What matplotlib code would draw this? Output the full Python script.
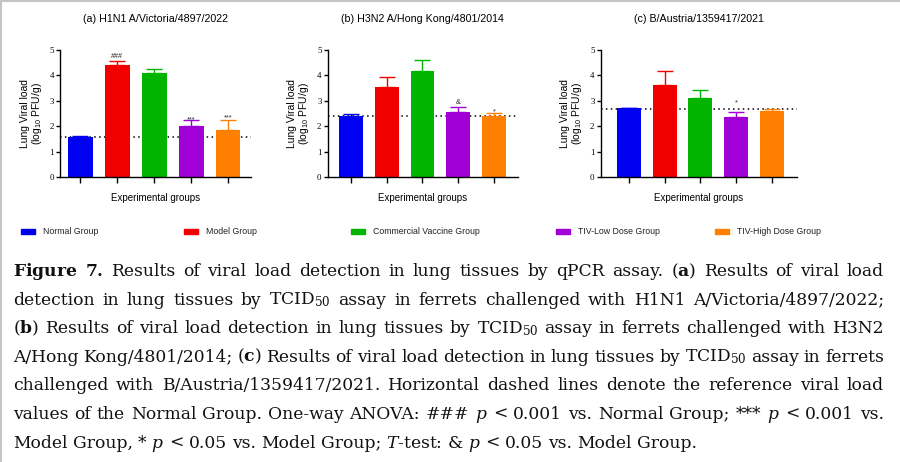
import numpy as np
import matplotlib
matplotlib.use('Agg')
import matplotlib.pyplot as plt
from matplotlib.patches import Rectangle
from matplotlib.lines import Line2D

plt.rcParams['font.family'] = 'Liberation Sans'
plt.rcParams['mathtext.fontset'] = 'custom'
plt.rcParams['mathtext.rm'] = 'DejaVu Serif'
plt.rcParams['mathtext.it'] = 'DejaVu Serif:italic'
plt.rcParams['mathtext.bf'] = 'DejaVu Serif:bold'
plt.rcParams['mathtext.sf'] = 'Liberation Sans'

#%% DATA
groups = ['Normal Group', 'Model Group', 'Commercial Vaccine Group',
          'TIV-Low Dose Group', 'TIV-High Dose Group']
colors = ['#0000f2', '#f20000', '#00b400', '#a000d6', '#ff8000']

titles = ['(a) H1N1 A/Victoria/4897/2022',
          '(b) H3N2 A/Hong Kong/4801/2014',
          '(c) B/Austria/1359417/2021']

means_a = [1.59, 4.42, 4.11, 2.02, 1.86]
err_a = [0.02, 0.15, 0.14, 0.22, 0.37]
means_b = [2.41, 3.56, 4.17, 2.56, 2.41]
err_b = [0.06, 0.36, 0.44, 0.21, 0.10]
means_c = [2.70, 3.63, 3.12, 2.38, 2.61]
err_c = [0.03, 0.53, 0.32, 0.17, 0.05]

# reference level (Normal Group) for the dotted lines
ref_levels = [1.59, 2.39, 2.68]

# significance marks: (bar index, text, y of baseline)
marks_a = [(1, '###', 4.68), (3, '***', 2.20), (4, '***', 2.26)]
marks_b = [(3, '&', 2.86), (4, '*', 2.52)]
marks_c = [(3, '*', 2.86)]

yticks = [0, 1, 2, 3, 4, 5]

caption = [
    r'$\mathbf{Figure}$ $\mathbf{7.}$ Results of viral load detection in lung tissues by qPCR assay. ($\mathbf{a}$) Results of viral load',
    r'detection in lung tissues by TCID$_{\mathrm{50}}$ assay in ferrets challenged with H1N1 A/Victoria/4897/2022;',
    r'($\mathbf{b}$) Results of viral load detection in lung tissues by TCID$_{\mathrm{50}}$ assay in ferrets challenged with H3N2',
    r'A/Hong Kong/4801/2014; ($\mathbf{c}$) Results of viral load detection in lung tissues by TCID$_{\mathrm{50}}$ assay in ferrets',
    r'challenged with B/Austria/1359417/2021. Horizontal dashed lines denote the reference viral load',
    r'values of the Normal Group. One-way ANOVA: ### $p$ < 0.001 vs. Normal Group; *** $p$ < 0.001 vs.',
    r'Model Group, * $p$ < 0.05 vs. Model Group; $T$-test: & $p$ < 0.05 vs. Model Group.',
]

#%% FIGURE
W, H = 900, 462
fig = plt.figure(figsize=(W / 100, H / 100), dpi=100)

def px(x0, y_top, w, h):
    return [x0 / W, 1 - (y_top + h) / H, w / W, h / H]

panels = [
    (px(60, 50, 191, 127), (-0.55, 4.62), means_a, err_a, marks_a),
    (px(327.7, 50, 190.3, 127), (-0.65, 4.67), means_b, err_b, marks_b),
    (px(600.7, 50, 196.3, 127), (-0.79, 4.70), means_c, err_c, marks_c),
]

x = np.arange(len(groups))
for i, (rect, xlim, means, errs, marks) in enumerate(panels):
    ax = fig.add_axes(rect)
    ax.axhline(ref_levels[i], color='black', lw=1.1, ls=(0, (1, 2.2)), zorder=1)
    for j in range(len(groups)):
        ax.bar(x[j], means[j], width=0.67, color=colors[j], zorder=2)
        ax.errorbar(x[j], means[j], yerr=[[0], [errs[j]]], color=colors[j],
                    capsize=5.5, elinewidth=1.0, capthick=1.0, zorder=1.5)
    for j, txt, y in marks:
        ax.text(x[j], y, txt, ha='center', va='baseline', fontsize=5.2,
                color='#222222')
    ax.set_xlim(*xlim)
    ax.set_ylim(0, 5)
    ax.set_yticks(yticks)
    ax.set_xticks(x)
    ax.set_xticklabels([])
    for s in ['top', 'right']:
        ax.spines[s].set_visible(False)
    for s in ['left', 'bottom']:
        ax.spines[s].set_linewidth(1.0)
    ax.tick_params(axis='y', length=3, width=1.0, pad=1.5, labelsize=6.3)
    ax.tick_params(axis='x', length=4, width=1.0)
    for lab in ax.get_yticklabels():
        lab.set_family('Liberation Serif')
    ax.set_title(titles[i], fontsize=7.7, pad=20)
    ax.set_xlabel('Experimental groups', fontsize=7, labelpad=4)
    ax.set_ylabel('Lung Viral load\n(log$_{\\mathsf{10}}$ PFU/g)', fontsize=7.5,
                  linespacing=1.0, labelpad=4)

# legend row
leg_x = [21, 184, 351, 556, 715]
for j, name in enumerate(groups):
    fig.patches.append(Rectangle((leg_x[j] / W, 1 - 233.5 / H), 14 / W, 4 / H,
                                 transform=fig.transFigure, color=colors[j]))
    fig.text((leg_x[j] + 22) / W, 1 - 231.5 / H, name, fontsize=6.3,
             va='center', ha='left', color='#222222')

# frame lines
fig.lines.append(Line2D([0, 1], [1 - 0.5 / H, 1 - 0.5 / H], transform=fig.transFigure,
                        color='#c4c4c4', lw=1.5))
fig.lines.append(Line2D([0.8 / W, 0.8 / W], [0, 1], transform=fig.transFigure,
                        color='#c4c4c4', lw=1.5))

#%% CAPTION (justified)
renderer = fig.canvas.get_renderer()
left, right = 13, 884
base0, step = 276, 28.6

def word_widths(words, fs):
    texts = [fig.text(0, 0, w, fontsize=fs, family='DejaVu Serif',
                      va='baseline', ha='left', color='#111111') for w in words]
    widths = [t.get_window_extent(renderer=renderer).width for t in texts]
    return texts, widths

# pick a size that lets the widest line fit with normal spaces
fs = 12.3
for line in caption[:-1]:
    words = line.split(' ')
    tmp, ws = word_widths(words, fs)
    need = sum(ws) + (len(words) - 1) * 0.25 * fs * 100 / 72
    for t in tmp:
        t.remove()
    if need > right - left:
        fs = fs * (right - left) / need

space = 0.3 * fs * 100 / 72
for k, line in enumerate(caption):
    words = line.split(' ')
    texts, widths = word_widths(words, fs)
    if k < len(caption) - 1:
        gap = (right - left - sum(widths)) / (len(words) - 1)
    else:
        gap = space
    xpos = left
    yb = 1 - (base0 + k * step) / H
    for t, w in zip(texts, widths):
        t.set_position((xpos / W, yb))
        xpos += w + gap

fig.savefig('out.png', dpi=100)
